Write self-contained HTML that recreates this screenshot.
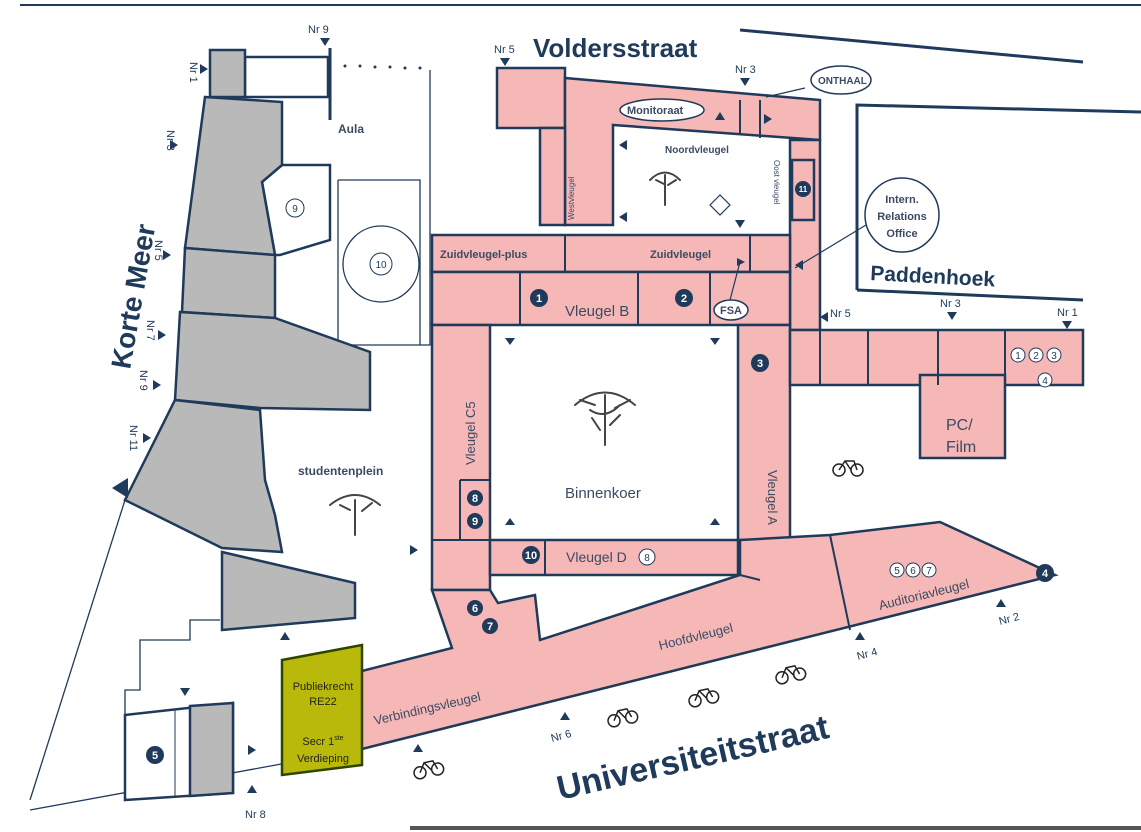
<!DOCTYPE html>
<html><head><meta charset="utf-8"><style>
html,body{margin:0;padding:0;background:#fff}
svg{display:block}
text{font-family:"Liberation Sans",sans-serif}
</style></head><body>
<svg width="1141" height="832" viewBox="0 0 1141 832" xmlns="http://www.w3.org/2000/svg">
<rect width="1141" height="832" fill="#fff"/>
<line x1="20" y1="5" x2="1141" y2="5" stroke="#1f3a5a" stroke-width="2"/>
<line x1="410" y1="828" x2="1141" y2="828" stroke="#555" stroke-width="4"/>
<g stroke="#1f3a5a" stroke-width="3" fill="none">
<line x1="740" y1="30" x2="1083" y2="62"/>
<polyline points="857,290 857,105 1141,112"/>
<line x1="857" y1="290" x2="1083" y2="300"/>
<line x1="330" y1="48" x2="330" y2="120"/>
</g>
<g stroke="#1f3a5a" stroke-width="1.3" fill="none">
<line x1="30" y1="810" x2="358" y2="750"/>
<line x1="30" y1="800" x2="125" y2="500"/>
<polyline points="330,345 430,345 430,70"/>
<polyline points="338,180 420,180 420,345"/>
<polyline points="338,180 338,345"/>
<circle cx="381" cy="264" r="38"/>
<polyline points="125,800 125,690 140,690 140,640 190,640 190,620 220,620"/>
</g>
<g fill="#fff" stroke="#1f3a5a" stroke-width="2.5">
<rect x="245" y="57" width="83" height="40"/>
<polygon points="262,182 282,165 330,165 330,240 280,255 275,255"/>
<polygon points="125,715 233,703 233,793 125,800"/>
</g>
<g fill="#b9b9b9" stroke="#1f3a5a" stroke-width="2.5">
<rect x="210" y="50" width="35" height="47"/>
<polygon points="205,97 282,102 282,165 262,182 275,255 185,248"/>
<polygon points="185,248 275,255 275,318 182,312"/>
<polygon points="180,312 275,318 370,352 370,410 260,408 175,400"/>
<polygon points="175,400 260,410 265,480 275,515 282,552 222,548 125,500"/>
<polygon points="222,552 355,583 355,618 222,630"/>
<polygon points="190,706 233,703 233,793 190,796"/>
</g>
<line x1="175" y1="710" x2="175" y2="797" stroke="#1f3a5a" stroke-width="1"/>
<g fill="#f5b8b6" stroke="#1f3a5a" stroke-width="2.5">
<rect x="497" y="68" width="68" height="60"/>
<polygon points="565,78 820,100 820,140 613,125 613,225 565,225"/>
<rect x="540" y="128" width="25" height="97"/>
<rect x="790" y="140" width="30" height="190"/>
<rect x="432" y="235" width="358" height="37"/>
<rect x="432" y="272" width="358" height="53"/>
<rect x="432" y="325" width="58" height="265"/>
<rect x="738" y="325" width="52" height="215"/>
<rect x="490" y="540" width="248" height="35"/>
<rect x="790" y="330" width="293" height="55"/>
<rect x="920" y="375" width="85" height="83"/>
<polygon points="358,672 452,648 432,590 490,590 498,603 535,595 540,640 740,575 740,540 830,535 940,522 1055,575 358,750"/>
<rect x="792" y="160" width="22" height="60"/>
</g>
<g stroke="#1f3a5a" stroke-width="2">
<line x1="830" y1="535" x2="850" y2="630"/>
<line x1="740" y1="575" x2="760" y2="580"/>
<line x1="820" y1="330" x2="820" y2="385"/><line x1="868" y1="330" x2="868" y2="385"/><line x1="938" y1="330" x2="938" y2="385"/><line x1="1005" y1="330" x2="1005" y2="385"/>
<line x1="520" y1="272" x2="520" y2="325"/><line x1="638" y1="272" x2="638" y2="325"/><line x1="710" y1="272" x2="710" y2="325"/>
<line x1="565" y1="235" x2="565" y2="272"/>
<line x1="750" y1="235" x2="750" y2="272"/>
<line x1="740" y1="100" x2="740" y2="135"/><line x1="760" y1="100" x2="760" y2="138"/>
<line x1="460" y1="480" x2="490" y2="480"/><line x1="460" y1="480" x2="460" y2="540"/>
<line x1="432" y1="540" x2="490" y2="540"/>
<line x1="545" y1="540" x2="545" y2="575"/>
</g>
<polygon points="282,660 362,645 362,765 282,775" fill="#b9b90c" stroke="#2e4500" stroke-width="2.5"/>
<g fill="#fff" stroke="#1f3a5a" stroke-width="1.5">
<ellipse cx="662" cy="110" rx="42" ry="11"/>
<ellipse cx="841" cy="80" rx="30" ry="14"/>
<circle cx="902" cy="215" r="37"/>
<ellipse cx="731" cy="310" rx="17" ry="10"/>
</g>
<g fill="#1f3a5a">
<circle cx="539" cy="298" r="9"/><circle cx="684" cy="298" r="9"/><circle cx="760" cy="363" r="9"/>
<circle cx="1045" cy="573" r="9"/><circle cx="155" cy="755" r="9"/><circle cx="475" cy="608" r="8"/><circle cx="490" cy="626" r="8"/>
<circle cx="475" cy="498" r="8"/><circle cx="475" cy="521" r="8"/><circle cx="531" cy="555" r="9"/><circle cx="803" cy="189" r="8"/>
</g>
<g fill="#fff" font-size="11" font-weight="bold" text-anchor="middle">
<text x="539" y="302">1</text><text x="684" y="302">2</text><text x="760" y="367">3</text><text x="1045" y="577">4</text>
<text x="155" y="759">5</text><text x="475" y="612">6</text><text x="490" y="630">7</text><text x="475" y="502">8</text>
<text x="475" y="525">9</text><text x="531" y="559">10</text><text x="803" y="192" font-size="8">11</text>
</g>
<g fill="#fff" stroke="#1f3a5a" stroke-width="1">
<circle cx="295" cy="208" r="9"/><circle cx="381" cy="264" r="11"/><circle cx="647" cy="557" r="8"/>
<circle cx="1018" cy="355" r="7"/><circle cx="1036" cy="355" r="7"/><circle cx="1054" cy="355" r="7"/><circle cx="1045" cy="380" r="7"/>
<circle cx="897" cy="570" r="7"/><circle cx="913" cy="570" r="7"/><circle cx="929" cy="570" r="7"/>
</g>
<g fill="#1f3a5a" font-size="10" text-anchor="middle">
<text x="295" y="212">9</text><text x="381" y="268">10</text><text x="647" y="561">8</text>
<text x="1018" y="359">1</text><text x="1036" y="359">2</text><text x="1054" y="359">3</text><text x="1045" y="384">4</text>
<text x="897" y="574">5</text><text x="913" y="574">6</text><text x="929" y="574">7</text>
</g>
<g fill="#1f3a5a" font-weight="bold">
<text x="533" y="57" font-size="26">Voldersstraat</text>
<text x="870" y="280" font-size="21" transform="rotate(3 870 280)">Paddenhoek</text>
<text x="560" y="800" font-size="34" transform="rotate(-13 560 800)">Universiteitstraat</text>
<text x="130" y="370" font-size="28" transform="rotate(-80 130 370)">Korte Meer</text>
</g>
<g fill="#3c4a63" font-size="12" font-weight="bold">
<text x="338" y="133">Aula</text>
<text x="298" y="475">studentenplein</text>
<text x="565" y="498" font-size="15" font-weight="normal">Binnenkoer</text>
<text x="565" y="316" font-size="15" font-weight="normal">Vleugel B</text>
<text x="566" y="562" font-size="14" font-weight="normal">Vleugel D</text>
<text x="440" y="258" font-size="11">Zuidvleugel-plus</text>
<text x="650" y="258" font-size="11">Zuidvleugel</text>
<text x="665" y="153" font-size="10">Noordvleugel</text>
<text x="627" y="114" font-size="11">Monitoraat</text>
<text x="818" y="84" font-size="10">ONTHAAL</text>
<text x="902" y="203" font-size="11" text-anchor="middle">Intern.</text>
<text x="902" y="220" font-size="11" text-anchor="middle">Relations</text>
<text x="902" y="237" font-size="11" text-anchor="middle">Office</text>
<text x="720" y="314" font-size="11">FSA</text>
<text x="475" y="465" font-size="13" font-weight="normal" transform="rotate(-90 475 465)">Vleugel C5</text>
<text x="768" y="470" font-size="13" font-weight="normal" transform="rotate(90 768 470)">Vleugel A</text>
<text x="574" y="220" font-size="8" font-weight="normal" transform="rotate(-90 574 220)">Westvleugel</text>
<text x="774" y="160" font-size="8" font-weight="normal" transform="rotate(90 774 160)">Oost vleugel</text>
<text x="946" y="430" font-size="16" font-weight="normal">PC/</text>
<text x="946" y="452" font-size="16" font-weight="normal">Film</text>
<text x="375" y="725" font-size="13" font-weight="normal" transform="rotate(-13 375 725)">Verbindingsvleugel</text>
<text x="660" y="650" font-size="13" font-weight="normal" transform="rotate(-14 660 650)">Hoofdvleugel</text>
<text x="880" y="610" font-size="13" font-weight="normal" transform="rotate(-14 880 610)">Auditoriavleugel</text>
</g>
<g fill="#222" font-size="11" text-anchor="middle">
<text x="323" y="690">Publiekrecht</text><text x="323" y="705">RE22</text>
<text x="323" y="745">Secr 1<tspan font-size="7" dy="-5">ste</tspan></text>
<text x="323" y="762">Verdieping</text>
</g>
<g fill="#1f3a5a" font-size="11">
<text x="308" y="33">Nr 9</text><text x="494" y="53">Nr 5</text><text x="735" y="73">Nr 3</text>
<text x="940" y="307">Nr 3</text><text x="1057" y="316">Nr 1</text><text x="830" y="317">Nr 5</text>
<text x="245" y="818">Nr 8</text><text x="552" y="742" transform="rotate(-15 552 742)">Nr 6</text>
<text x="858" y="660" transform="rotate(-15 858 660)">Nr 4</text><text x="1000" y="625" transform="rotate(-15 1000 625)">Nr 2</text>
<text x="190" y="62" transform="rotate(90 190 62)">Nr 1</text><text x="167" y="130" transform="rotate(90 167 130)">Nr 3</text>
<text x="155" y="240" transform="rotate(90 155 240)">Nr 5</text><text x="147" y="320" transform="rotate(90 147 320)">Nr 7</text>
<text x="140" y="370" transform="rotate(90 140 370)">Nr 9</text><text x="130" y="425" transform="rotate(90 130 425)">Nr 11</text>
</g>
<g fill="#1f3a5a">
<polygon points="320,38 330,38 325,46"/><polygon points="500,58 510,58 505,66"/><polygon points="740,78 750,78 745,86"/>
<polygon points="947,312 957,312 952,320"/><polygon points="1062,321 1072,321 1067,329"/>
<polygon points="200,64 200,74 208,69"/><polygon points="170,140 170,150 178,145"/><polygon points="163,250 163,260 171,255"/>
<polygon points="158,330 158,340 166,335"/><polygon points="153,380 153,390 161,385"/><polygon points="143,433 143,443 151,438"/>
<polygon points="112,488 128,478 128,498"/>
<polygon points="828,312 828,322 820,317"/><polygon points="803,260 803,270 795,265"/>
<polygon points="627,140 627,150 619,145"/><polygon points="627,212 627,222 619,217"/><polygon points="735,220 745,220 740,228"/>
<polygon points="715,120 725,120 720,112"/><polygon points="764,114 764,124 772,119"/><polygon points="737,258 737,266 745,262"/>
<polygon points="505,338 515,338 510,345"/><polygon points="710,338 720,338 715,345"/><polygon points="505,525 515,525 510,518"/><polygon points="710,525 720,525 715,518"/>
<polygon points="410,545 410,555 418,550"/><polygon points="280,640 290,640 285,632"/><polygon points="180,688 190,688 185,696"/>
<polygon points="248,745 248,755 256,750"/><polygon points="247,793 257,793 252,785"/>
<polygon points="560,720 570,720 565,712"/><polygon points="413,752 423,752 418,744"/>
<polygon points="855,640 865,640 860,632"/><polygon points="996,607 1006,607 1001,599"/>
</g>
<g stroke="#1f3a5a" stroke-width="1.2" fill="none">
<line x1="766" y1="97" x2="805" y2="88"/>
<line x1="866" y1="225" x2="795" y2="268"/>
<line x1="740" y1="262" x2="730" y2="300"/>
<polygon points="710,205 720,195 730,205 720,215" fill="#fff"/>
</g>
<g fill="none" stroke="#444" stroke-width="2" stroke-linecap="round">
<path d="M575,405 q30,-25 60,0 M605,395 v50 M590,410 q15,10 30,-5 M580,400 l15,5 M630,400 l-15,8 M600,430 l-8,-12 M610,425 l10,-10"/>
<path d="M330,505 q25,-20 50,0 M355,500 v35 M340,505 l10,5 M372,503 l-10,8"/>
<path d="M650,180 q15,-15 30,0 M665,175 v30 M656,180 l8,4 M676,180 l-8,5"/>
</g>
<g fill="none" stroke="#222" stroke-width="1.5">
<g transform="translate(848,466)"><circle cx="-9" cy="4" r="6"/><circle cx="9" cy="4" r="6"/><path d="M-9,4 l6,-9 h9 l3,9 M-3,-5 l6,9"/></g>
<g transform="translate(790,672) rotate(-12)"><circle cx="-9" cy="4" r="6"/><circle cx="9" cy="4" r="6"/><path d="M-9,4 l6,-9 h9 l3,9 M-3,-5 l6,9"/></g>
<g transform="translate(703,695) rotate(-12)"><circle cx="-9" cy="4" r="6"/><circle cx="9" cy="4" r="6"/><path d="M-9,4 l6,-9 h9 l3,9 M-3,-5 l6,9"/></g>
<g transform="translate(622,715) rotate(-12)"><circle cx="-9" cy="4" r="6"/><circle cx="9" cy="4" r="6"/><path d="M-9,4 l6,-9 h9 l3,9 M-3,-5 l6,9"/></g>
<g transform="translate(428,767) rotate(-12)"><circle cx="-9" cy="4" r="6"/><circle cx="9" cy="4" r="6"/><path d="M-9,4 l6,-9 h9 l3,9 M-3,-5 l6,9"/></g>
</g>
<g fill="#1f3a5a"><circle cx="345" cy="66" r="1.5"/><circle cx="360" cy="66" r="1.5"/><circle cx="375" cy="67" r="1.5"/><circle cx="390" cy="67" r="1.5"/><circle cx="405" cy="68" r="1.5"/><circle cx="420" cy="68" r="1.5"/></g>
</svg>
</body></html>
